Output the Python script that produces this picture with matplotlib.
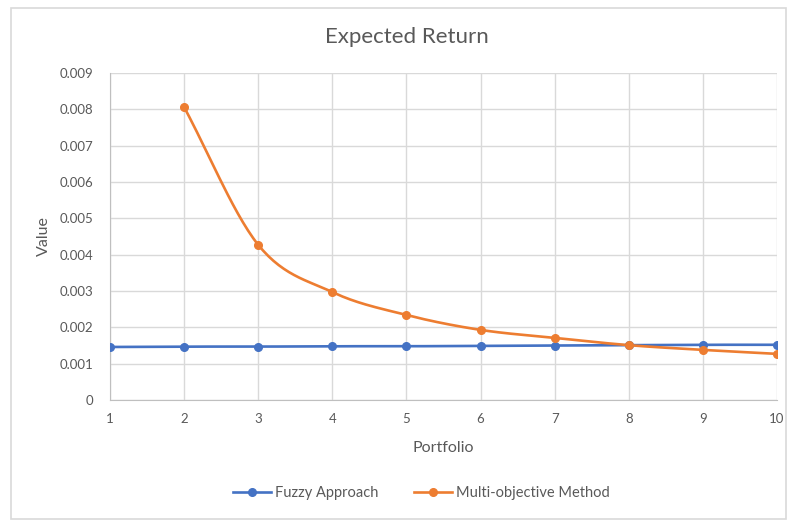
import numpy as np
import matplotlib.pyplot as plt
from matplotlib.patches import Rectangle

plt.rcParams['font.family'] = ['Lato', 'DejaVu Sans']

# portfolios and expected returns
portfolio = [1, 2, 3, 4, 5, 6, 7, 8, 9, 10]
fuzzy = [0.00146, 0.00147, 0.00147, 0.00148, 0.00148, 0.00149, 0.00150, 0.00151, 0.00152, 0.00152]
multi_x = [2, 3, 4, 5, 6, 7, 8, 9, 10]
multi = [0.00806, 0.00427, 0.00297, 0.00234, 0.00193, 0.00171, 0.00151, 0.00138, 0.00127]

BLUE = '#4472C4'
ORANGE = '#ED7D31'
TXT = '#595959'


def smooth(xs, ys, n=30):
    # catmull-rom style smoothing like spreadsheet "smoothed line"
    xs = np.asarray(xs, float)
    ys = np.asarray(ys, float)
    px = np.concatenate([[2 * xs[0] - xs[1]], xs, [2 * xs[-1] - xs[-2]]])
    py = np.concatenate([[2 * ys[0] - ys[1]], ys, [2 * ys[-1] - ys[-2]]])
    ox, oy = [], []
    for i in range(1, len(px) - 2):
        t = np.linspace(0, 1, n)
        for p, out in ((px, ox), (py, oy)):
            p0, p1, p2, p3 = p[i - 1], p[i], p[i + 1], p[i + 2]
            b1 = p1 + (p2 - p0) / 6
            b2 = p2 - (p3 - p1) / 6
            out.extend((1 - t) ** 3 * p1 + 3 * (1 - t) ** 2 * t * b1
                       + 3 * (1 - t) * t ** 2 * b2 + t ** 3 * p2)
    return ox, oy


fig = plt.figure(figsize=(7.95, 5.21), dpi=100)
ax = fig.add_axes([0.1384, 0.2322, 0.839, 0.6277])

fig.patches.append(Rectangle((11 / 795, 2 / 521), 775 / 795, 511 / 521,
                             transform=fig.transFigure, fill=False,
                             edgecolor='#D9D9D9', linewidth=1.2))

sx, sy = smooth(portfolio, fuzzy)
ax.plot(sx, sy, color=BLUE, lw=1.9, zorder=3)
ax.plot(portfolio, fuzzy, 'o', color=BLUE, ms=5.5, zorder=4)
sx, sy = smooth(multi_x, multi)
ax.plot(sx, sy, color=ORANGE, lw=1.9, zorder=3)
ax.plot(multi_x, multi, 'o', color=ORANGE, ms=5.5, zorder=4)

ax.set_xlim(1, 10)
ax.set_ylim(0, 0.009)
ax.set_xticks(portfolio)
yt = np.arange(0, 0.0091, 0.001)
ax.set_yticks(yt)
ax.set_yticklabels(['0'] + ['%.3f' % v for v in yt[1:]])
ax.grid(True, color='#D9D9D9', lw=1)
ax.set_axisbelow(True)
for s in ('top', 'right'):
    ax.spines[s].set_visible(False)
for s in ('left', 'bottom'):
    ax.spines[s].set_color('#BFBFBF')
ax.tick_params(length=0, colors=TXT, labelsize=9.5)
ax.tick_params(axis='x', pad=9)
ax.tick_params(axis='y', pad=12)

fig.text(0.512, 0.929, 'Expected Return', color=TXT, fontsize=16,
         ha='center', va='center')
ax.set_xlabel('Portfolio', color=TXT, fontsize=11.5, labelpad=12)
ax.set_ylabel('Value', color=TXT, fontsize=11.5, labelpad=6)

h1, = ax.plot([], [], '-o', color=BLUE, lw=1.9, ms=5.5)
h2, = ax.plot([], [], '-o', color=ORANGE, lw=1.9, ms=5.5)
fig.legend([h1, h2], ['Fuzzy Approach', 'Multi-objective Method'],
           loc='center', bbox_to_anchor=(0.53, 0.053), ncol=2, frameon=False,
           fontsize=10.5, labelcolor=TXT, handlelength=2.6, columnspacing=2.4,
           handletextpad=0.3)

fig.savefig('out.png', dpi=100)
